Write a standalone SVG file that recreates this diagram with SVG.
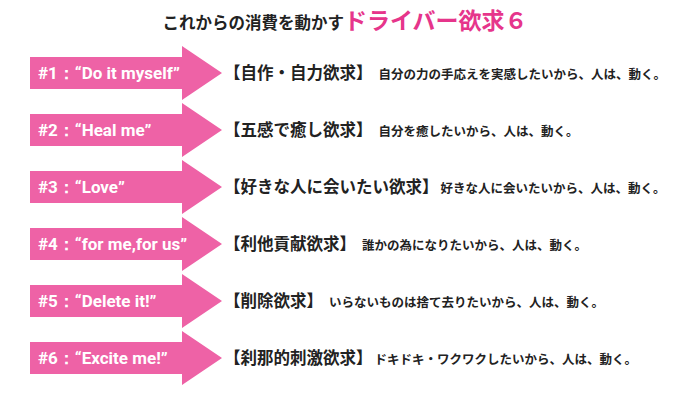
<svg xmlns="http://www.w3.org/2000/svg" width="700" height="400" viewBox="0 0 700 400">
<defs><style>
.t{font-family:"Noto Sans CJK JP","Noto Sans",sans-serif;font-weight:bold;fill:#222}
.a{fill:#ee62a6}
.al{font-family:"Roboto","Liberation Sans",Arial,sans-serif;font-weight:bold;font-size:17px;fill:#fff}
.h{font-size:16.5px}
.d{font-size:12.5px}
</style>
<path id="arr" d="M0,-16 H152 V-27 L192,0 L152,27 V16 H0 Z"/>
</defs>
<rect width="700" height="400" fill="#fff"/>
<text class="t" x="345" y="29" text-anchor="middle"><tspan font-size="16.5">これからの消費を動かす</tspan><tspan font-size="23" fill="#e6358b">ドライバー欲求６</tspan></text>
<g id="n1"><use href="#arr" class="a" x="30" y="73"/><text class="al" x="38" y="79">#1：“Do it myself”</text><text class="t" x="224" y="79"><tspan class="h">【自作・自力欲求】</tspan><tspan class="d" dx="6">自分の力の手応えを実感したいから、人は、動く。</tspan></text></g>
<g id="n2"><use href="#arr" class="a" x="30" y="130"/><text class="al" x="38" y="136">#2：“Heal me”</text><text class="t" x="224" y="136"><tspan class="h">【五感で癒し欲求】</tspan><tspan class="d" dx="6">自分を癒したいから、人は、動く。</tspan></text></g>
<g id="n3"><use href="#arr" class="a" x="30" y="187"/><text class="al" x="38" y="193">#3：“Love”</text><text class="t" x="224" y="193"><tspan class="h">【好きな人に会いたい欲求】</tspan><tspan class="d" dx="2">好きな人に会いたいから、人は、動く。</tspan></text></g>
<g id="n4"><use href="#arr" class="a" x="30" y="244"/><text class="al" x="38" y="250">#4：“for me,for us”</text><text class="t" x="224" y="250"><tspan class="h">【利他貢献欲求】</tspan><tspan class="d" dx="6">誰かの為になりたいから、人は、動く。</tspan></text></g>
<g id="n5"><use href="#arr" class="a" x="30" y="301"/><text class="al" x="38" y="307">#5：“Delete it!”</text><text class="t" x="224" y="307"><tspan class="h">【削除欲求】</tspan><tspan class="d" dx="6">いらないものは捨て去りたいから、人は、動く。</tspan></text></g>
<g id="n6"><use href="#arr" class="a" x="30" y="358"/><text class="al" x="38" y="364">#6：“Excite me!”</text><text class="t" x="224" y="364"><tspan class="h">【刹那的刺激欲求】</tspan><tspan class="d" dx="2">ドキドキ・ワクワクしたいから、人は、動く。</tspan></text></g>
<g id="connectors"/>
</svg>
